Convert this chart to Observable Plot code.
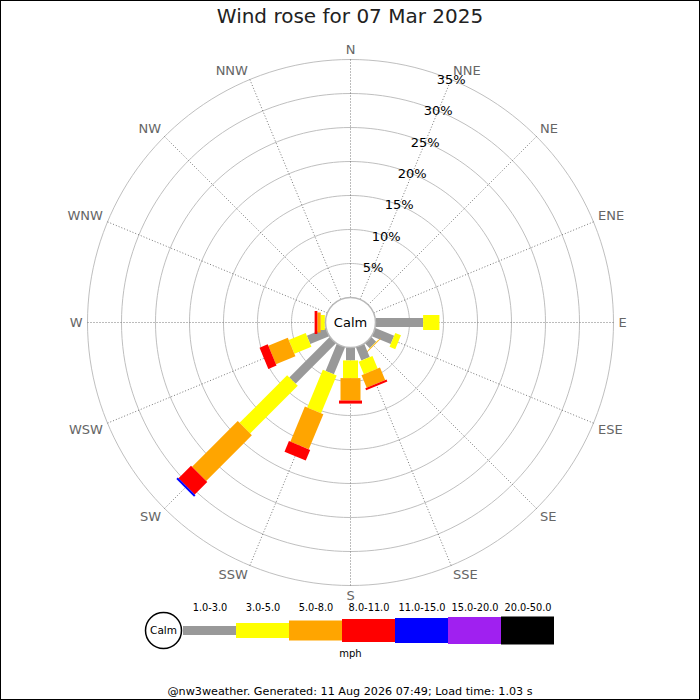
<!DOCTYPE html>
<html>
<head>
<meta charset="utf-8">
<script src="https://cdn.jsdelivr.net/npm/d3@7"></script>
<script src="https://cdn.jsdelivr.net/npm/@observablehq/plot@0.6"></script>
<style>
  body { margin: 0; background: #fff; font-family: "DejaVu Sans", sans-serif; }
  #wrap { position: relative; width: 700px; height: 700px; overflow: hidden; background: #fff; }
  #title { position: absolute; top: 4px; left: 0; width: 700px; text-align: center; font-size: 20px; color: #222; }
  #rose { position: absolute; top: 36px; left: 0; }
  #legend { position: absolute; top: 595px; left: 0; }
  #caption { position: absolute; top: 685px; left: 0; width: 700px; text-align: center; font-size: 11.2px; color: #000; }
  #frame { position: absolute; inset: 0; border: 1px solid #000; box-sizing: border-box; pointer-events: none; }
</style>
</head>
<body>
<div id="wrap">
  <div id="title">Wind rose for 07 Mar 2025</div>
  <div id="rose"></div>
  <div id="legend"></div>
  <div id="caption">@nw3weather. Generated: 11 Aug 2026 07:49; Load time: 1.03 s</div>
  <div id="frame"></div>
</div>
<script>
// ---------- data ----------
const directions = ["N","NNE","NE","ENE","E","ESE","SE","SSE","S","SSW","SW","WSW","W","WNW","NW","NNW"];
const speedBins = ["1.0-3.0","3.0-5.0","5.0-8.0","8.0-11.0","11.0-15.0","15.0-20.0","20.0-50.0"];
// percent of time per direction, by speed bin (mph)
const pct_1_3   = [0,0,0,0,7.0,3.0,1.0,2.1,1.9,4.3,8.4,3.0,0.1,0,0,0];
const pct_3_5   = [0,0,0,0,2.4,0.9,0.05,2.0,2.6,6.0,9.9,2.7,0.6,0,0,0];
const pct_5_8   = [0,0,0,0,0,0,0.1,2.0,3.3,5.6,9.5,3.1,0.5,0,0,0];
const pct_8_11  = [0,0,0,0,0,0,0,0.3,0.45,1.7,2.6,1.3,0.4,0,0,0];
const pct_11_15 = [0,0,0,0,0,0,0,0,0,0,0.3,0,0,0,0,0];
const pct_15_20 = [0,0,0,0,0,0,0,0,0,0,0,0,0,0,0,0];
const pct_20_50 = [0,0,0,0,0,0,0,0,0,0,0,0,0,0,0,0];
const ringTicks = [5,10,15,20,25,30,35];
const unitLabel = "mph";
const calmLabel = "Calm";

// ---------- styles ----------
const binColors = ["#999999","#ffff00","#ffa500","#ff0000","#0000ff","#a020f0","#000000"];
const binWidths = [9,15,20,23,25,27,28];

const series = [pct_1_3, pct_3_5, pct_5_8, pct_8_11, pct_11_15, pct_15_20, pct_20_50];

// polar helper (pixel scale: 6.8 px per %, calm circle radius 25 px)
const k = 6.8;
const calm = 25 / k;
const maxRing = d3.max(ringTicks);
function pol(p, deg) {
  const r = p + calm, a = deg * Math.PI / 180;
  return {x: r * Math.sin(a), y: r * Math.cos(a)};
}
const step = 360 / directions.length;

// stacked segments
const segs = [];
directions.forEach((dir, i) => {
  let cum = 0;
  series.forEach((s, j) => {
    const v = s[i];
    if (v > 0) segs.push({dir, angle: i * step, p0: cum, p1: cum + v, color: binColors[j], width: binWidths[j]});
    cum += v;
  });
});

const H = 564, cy = 322 - 36;
const circlePts = t => d3.range(0, 361, 2).map(a => pol(t, a));

const dirLabelMarks = directions.map((d, i) => {
  const a = i * step, s = Math.sin(a * Math.PI / 180), c = Math.cos(a * Math.PI / 180);
  const anchor = s > 0.1 ? "start" : s < -0.1 ? "end" : "middle";
  const dy = c > 0.2 ? -4.5 : c < -0.2 ? 5 : 0;
  const p = pol((268 - 25) / k, a);
  return Plot.text([d], {x: () => p.x, y: () => p.y, text: t => t, textAnchor: anchor, dy, fill: "#666", fontSize: 13});
});

const rose = Plot.plot({
  width: 700, height: H, margin: 0,
  x: {domain: [-350 / k, 350 / k], axis: null},
  y: {domain: [-(H - cy) / k, cy / k], axis: null},
  color: {type: "identity"},
  style: {fontFamily: "DejaVu Sans", background: "transparent", overflow: "visible"},
  marks: [
    ...ringTicks.map(t => Plot.line(circlePts(t), {x: "x", y: "y", stroke: "#b8b8b8", strokeWidth: 0.9})),
    Plot.link(directions, {
      x1: (d, i) => pol(0, i * step).x, y1: (d, i) => pol(0, i * step).y,
      x2: (d, i) => pol(maxRing, i * step).x, y2: (d, i) => pol(maxRing, i * step).y,
      stroke: "#555", strokeWidth: 0.8, strokeDasharray: "1,2"
    }),
    Plot.link(segs, {
      x1: d => pol(d.p0, d.angle).x, y1: d => pol(d.p0, d.angle).y,
      x2: d => pol(d.p1, d.angle).x, y2: d => pol(d.p1, d.angle).y,
      stroke: d => d.color, strokeWidth: d => d.width, strokeLinecap: "butt"
    }),
    Plot.dot([calmLabel], {x: () => 0, y: () => 0, r: 25, fill: "white", stroke: "#b8b8b8"}),
    Plot.text([calmLabel], {x: () => 0, y: () => 0, text: d => d, fontSize: 13, fill: "#000"}),
    Plot.text(ringTicks, {x: t => pol(t, step).x, y: t => pol(t, step).y, text: t => t + "%", fontSize: 13, fill: "#000"}),
    ...dirLabelMarks
  ]
});
document.getElementById("rose").appendChild(rose);

// ---------- legend ----------
const legendData = speedBins.map((b, j) => ({bin: b, color: binColors[j], width: binWidths[j]}));
const legend = Plot.plot({
  width: 700, height: 70, margin: 0,
  x: {type: "band", domain: speedBins, range: [180.7, 556], padding: 0, axis: null},
  y: {type: "point", domain: ["label", "bar", "unit"], range: [12, 58], padding: 0, axis: null},
  color: {type: "identity"},
  style: {fontFamily: "DejaVu Sans", background: "transparent", overflow: "visible"},
  marks: [
    Plot.tickY(legendData, {x: "bin", y: () => "bar", stroke: "color", strokeWidth: "width"}),
    Plot.text(legendData, {x: "bin", y: () => "label", text: "bin", fontSize: 9.8, fill: "#000"}),
    Plot.text([unitLabel], {y: () => "unit", text: d => d, frameAnchor: "middle", fontSize: 10, fill: "#000"}),
    Plot.dot([calmLabel], {y: () => "bar", frameAnchor: "left", dx: 163, r: 18, fill: "white", stroke: "#000"}),
    Plot.text([calmLabel], {y: () => "bar", frameAnchor: "left", dx: 163, textAnchor: "middle", text: d => d, fontSize: 10.5, fill: "#000"})
  ]
});
document.getElementById("legend").appendChild(legend);
</script>
</body>
</html>
